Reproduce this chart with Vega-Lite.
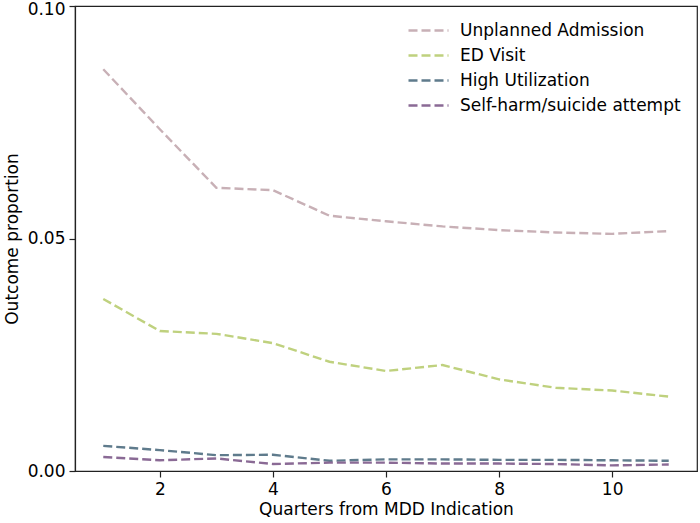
{
  "$schema": "https://vega.github.io/schema/vega-lite/v6.json",
  "width": 622,
  "height": 465,
  "autosize": "none",
  "padding": {"left": 75, "top": 6, "right": 3, "bottom": 52},
  "background": "white",
  "config": {
    "font": "DejaVu Sans",
    "view": {"stroke": "#222", "strokeWidth": 1.2},
    "axis": {
      "domainColor": "#222",
      "domainWidth": 1.2,
      "tickColor": "#222",
      "tickSize": 6,
      "tickWidth": 1.2,
      "labelFont": "DejaVu Sans",
      "labelFontSize": 17,
      "labelColor": "#000",
      "titleFont": "DejaVu Sans",
      "titleFontSize": 17,
      "titleFontWeight": "normal",
      "titleColor": "#000",
      "grid": false
    }
  },
  "data": {
    "values": [
      {"q": 1, "series": "Unplanned Admission", "v": 0.0864},
      {"q": 2, "series": "Unplanned Admission", "v": 0.0735},
      {"q": 3, "series": "Unplanned Admission", "v": 0.0609},
      {"q": 4, "series": "Unplanned Admission", "v": 0.0604},
      {"q": 5, "series": "Unplanned Admission", "v": 0.0549},
      {"q": 6, "series": "Unplanned Admission", "v": 0.0537},
      {"q": 7, "series": "Unplanned Admission", "v": 0.0526},
      {"q": 8, "series": "Unplanned Admission", "v": 0.0518},
      {"q": 9, "series": "Unplanned Admission", "v": 0.0513},
      {"q": 10, "series": "Unplanned Admission", "v": 0.0510},
      {"q": 11, "series": "Unplanned Admission", "v": 0.0516},
      {"q": 1, "series": "ED Visit", "v": 0.0370},
      {"q": 2, "series": "ED Visit", "v": 0.0301},
      {"q": 3, "series": "ED Visit", "v": 0.0295},
      {"q": 4, "series": "ED Visit", "v": 0.0275},
      {"q": 5, "series": "ED Visit", "v": 0.0235},
      {"q": 6, "series": "ED Visit", "v": 0.0215},
      {"q": 7, "series": "ED Visit", "v": 0.0228},
      {"q": 8, "series": "ED Visit", "v": 0.0197},
      {"q": 9, "series": "ED Visit", "v": 0.0179},
      {"q": 10, "series": "ED Visit", "v": 0.0173},
      {"q": 11, "series": "ED Visit", "v": 0.0160},
      {"q": 1, "series": "High Utilization", "v": 0.0054},
      {"q": 2, "series": "High Utilization", "v": 0.0045},
      {"q": 3, "series": "High Utilization", "v": 0.0034},
      {"q": 4, "series": "High Utilization", "v": 0.0035},
      {"q": 5, "series": "High Utilization", "v": 0.0022},
      {"q": 6, "series": "High Utilization", "v": 0.0025},
      {"q": 7, "series": "High Utilization", "v": 0.0025},
      {"q": 8, "series": "High Utilization", "v": 0.0024},
      {"q": 9, "series": "High Utilization", "v": 0.0024},
      {"q": 10, "series": "High Utilization", "v": 0.0023},
      {"q": 11, "series": "High Utilization", "v": 0.0022},
      {"q": 1, "series": "Self-harm/suicide attempt", "v": 0.0030},
      {"q": 2, "series": "Self-harm/suicide attempt", "v": 0.0023},
      {"q": 3, "series": "Self-harm/suicide attempt", "v": 0.0027},
      {"q": 4, "series": "Self-harm/suicide attempt", "v": 0.0015},
      {"q": 5, "series": "Self-harm/suicide attempt", "v": 0.0018},
      {"q": 6, "series": "Self-harm/suicide attempt", "v": 0.0018},
      {"q": 7, "series": "Self-harm/suicide attempt", "v": 0.0016},
      {"q": 8, "series": "Self-harm/suicide attempt", "v": 0.0016},
      {"q": 9, "series": "Self-harm/suicide attempt", "v": 0.0015},
      {"q": 10, "series": "Self-harm/suicide attempt", "v": 0.0012},
      {"q": 11, "series": "Self-harm/suicide attempt", "v": 0.0014}
    ]
  },
  "mark": {"type": "line", "strokeDash": [9, 4], "strokeWidth": 2.4},
  "encoding": {
    "x": {
      "field": "q",
      "type": "quantitative",
      "scale": {"domain": [0.5, 11.5], "nice": false, "zero": false},
      "axis": {"values": [2, 4, 6, 8, 10], "title": "Quarters from MDD Indication", "titlePadding": 4, "labelPadding": 4}
    },
    "y": {
      "field": "v",
      "type": "quantitative",
      "scale": {"domain": [0, 0.1], "nice": false},
      "axis": {
        "values": [0, 0.05, 0.1],
        "format": ".2f",
        "title": "Outcome proportion",
        "titlePadding": 6,
        "labelPadding": 4,
        "labelOffset": {"condition": {"test": "datum.value >= 0.1", "value": 3}, "value": 0}
      }
    },
    "color": {
      "field": "series",
      "type": "nominal",
      "scale": {
        "domain": ["Unplanned Admission", "ED Visit", "High Utilization", "Self-harm/suicide attempt"],
        "range": ["#c8b0b6", "#bfd17e", "#5f7b8c", "#8a6a95"]
      },
      "legend": {
        "title": null,
        "orient": "none",
        "legendX": 342,
        "legendY": 13,
        "symbolType": "M-2,0H2",
        "symbolDash": [9, 4],
        "symbolStrokeWidth": 2.4,
        "symbolSize": 400,
        "labelFontSize": 17,
        "labelFont": "DejaVu Sans",
        "labelColor": "#000",
        "labelOffset": 20,
        "labelLimit": 400,
        "rowPadding": 5
      }
    }
  }
}
